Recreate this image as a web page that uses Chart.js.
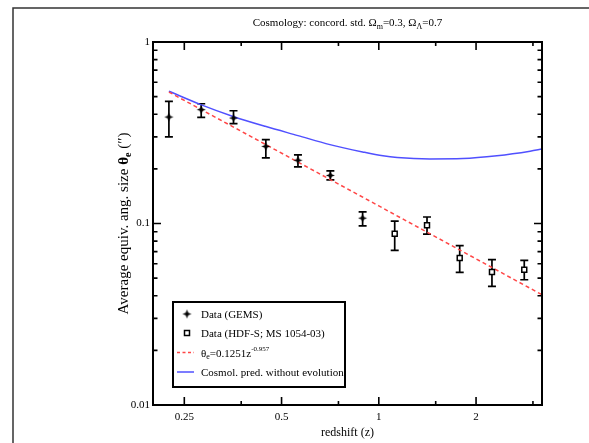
<!DOCTYPE html>
<html>
<head>
<meta charset="utf-8">
<script src="https://cdn.jsdelivr.net/npm/chart.js@4.4.0/dist/chart.umd.min.js"></script>
<style>
  html, body { margin: 0; padding: 0; background: #fff; }
  #wrap { width: 589px; height: 443px; }
</style>
</head>
<body>
<div id="wrap"><canvas id="chart"></canvas></div>
<script>
// GEMS bins: redshift, mean size (arcsec), error bar ends
const gemsZ = [0.224, 0.282, 0.355, 0.447, 0.562, 0.708, 0.891]
const gemsTheta = [0.386, 0.424, 0.381, 0.266, 0.223, 0.184, 0.107]
const gemsLow = [0.300, 0.384, 0.355, 0.230, 0.205, 0.174, 0.097]
const gemsHigh = [0.471, 0.457, 0.418, 0.290, 0.239, 0.195, 0.116]

// HDF-S / MS 1054-03 bins
const hdfZ = [1.12, 1.41, 1.78, 2.24, 2.82]
const hdfTheta = [0.0879, 0.0977, 0.0646, 0.0541, 0.0556]
const hdfLow = [0.0711, 0.0875, 0.0538, 0.0450, 0.0490]
const hdfHigh = [0.103, 0.1086, 0.0755, 0.0632, 0.0626]

// power law fit, read at a few redshifts
const fitZ = [0.224, 1, 3.2]
const fitTheta = [0.53, 0.125, 0.0405]

// no-evolution prediction
const modelZ = [0.224, 0.281, 0.354, 0.445, 0.562, 0.706, 0.891, 1.03, 1.14, 1.44, 1.82, 2.32, 2.94, 3.2]
const modelTheta = [0.535, 0.452, 0.389, 0.343, 0.305, 0.272, 0.248, 0.236, 0.231, 0.227, 0.228, 0.236, 0.250, 0.257]

const xMajor = [0.25, 0.5, 1, 2]
const xLabels = ['0.25', '0.5', '1', '2']
const xMinor = [0.375, 0.75, 1.5, 3]
const yMajor = [0.01, 0.1, 1]
const yLabels = ['0.01', '0.1', '1']
const yMinor = [0.02, 0.03, 0.04, 0.05, 0.06, 0.07, 0.08, 0.09,
                0.2, 0.3, 0.4, 0.5, 0.6, 0.7, 0.8, 0.9]

const SERIF = "'Liberation Serif', 'Times New Roman', serif"

function toPoints(xs, ys) {
    return xs.map((x, i) => ({ x: x, y: ys[i] }))
}

// little filled four point star for the GEMS marker
function makeStar(r) {
    const c = document.createElement('canvas')
    c.width = c.height = 2 * r + 2
    const g = c.getContext('2d')
    const m = r + 1
    g.beginPath()
    for (let k = 0; k < 8; k++) {
        const a = k * Math.PI / 4 - Math.PI / 2
        const rr = k % 2 === 0 ? r : r * 0.4
        g.lineTo(m + rr * Math.cos(a), m + rr * Math.sin(a))
    }
    g.closePath()
    g.fillStyle = '#000'
    g.fill()
    return c
}
const star = makeStar(4.5)

function drawRich(ctx, parts, x, y, align) {
    let total = 0
    parts.forEach(p => { ctx.font = p.font; total += ctx.measureText(p.t).width })
    let cx = align === 'center' ? x - total / 2 : x
    ctx.textAlign = 'left'
    ctx.textBaseline = 'alphabetic'
    parts.forEach(p => {
        ctx.font = p.font
        ctx.fillText(p.t, cx, y + (p.dy || 0))
        cx += ctx.measureText(p.t).width
    })
}

const errorBars = {
    id: 'errorBars',
    beforeDatasetsDraw(chart) {
        const ctx = chart.ctx
        const xs = chart.scales.x, ys = chart.scales.y
        ctx.save()
        ctx.strokeStyle = '#000'
        ctx.lineWidth = 1.7
        chart.data.datasets.forEach(ds => {
            if (!ds.errLow) return
            ds.data.forEach((p, i) => {
                const px = xs.getPixelForValue(p.x)
                const lo = ys.getPixelForValue(ds.errLow[i])
                const hi = ys.getPixelForValue(ds.errHigh[i])
                ctx.beginPath()
                ctx.moveTo(px, lo); ctx.lineTo(px, hi)
                ctx.moveTo(px - 4, lo); ctx.lineTo(px + 4, lo)
                ctx.moveTo(px - 4, hi); ctx.lineTo(px + 4, hi)
                ctx.stroke()
            })
        })
        ctx.restore()
    }
}

const decorations = {
    id: 'decorations',
    beforeDraw(chart) {
        const ctx = chart.ctx
        ctx.save()
        ctx.fillStyle = '#fff'
        ctx.fillRect(0, 0, chart.width, chart.height)
        // page frame
        ctx.strokeStyle = '#333'
        ctx.lineWidth = 1.5
        ctx.beginPath()
        ctx.moveTo(13, chart.height); ctx.lineTo(13, 8); ctx.lineTo(chart.width, 8)
        ctx.stroke()
        ctx.restore()
    },
    afterDraw(chart) {
        const ctx = chart.ctx
        const a = chart.chartArea
        const xs = chart.scales.x, ys = chart.scales.y
        ctx.save()
        ctx.strokeStyle = '#000'
        ctx.lineWidth = 2
        ctx.strokeRect(a.left, a.top, a.right - a.left, a.bottom - a.top)

        // inward ticks on all four sides
        ctx.lineWidth = 1.6
        ctx.beginPath()
        const xt = (v, len) => {
            const px = xs.getPixelForValue(v)
            ctx.moveTo(px, a.bottom); ctx.lineTo(px, a.bottom - len)
            ctx.moveTo(px, a.top); ctx.lineTo(px, a.top + len)
        }
        const yt = (v, len) => {
            const py = ys.getPixelForValue(v)
            ctx.moveTo(a.left, py); ctx.lineTo(a.left + len, py)
            ctx.moveTo(a.right, py); ctx.lineTo(a.right - len, py)
        }
        xMajor.forEach(v => xt(v, 8))
        xMinor.forEach(v => xt(v, 4))
        yMajor.forEach(v => yt(v, 8))
        yMinor.forEach(v => yt(v, 4.5))
        ctx.stroke()

        ctx.fillStyle = '#000'
        // title
        const big = '11px ' + SERIF, sub = '8px ' + SERIF
        drawRich(ctx, [
            { t: 'Cosmology: concord. std. \u03A9', font: big },
            { t: 'm', font: sub, dy: 3 },
            { t: '=0.3, \u03A9', font: big },
            { t: '\u039B', font: sub, dy: 3 },
            { t: '=0.7', font: big }
        ], (a.left + a.right) / 2, 26, 'center')

        // y axis title
        ctx.save()
        ctx.translate(123, (a.top + a.bottom) / 2)
        ctx.rotate(-Math.PI / 2)
        drawRich(ctx, [
            { t: 'Average equiv. ang. size ', font: '15px ' + SERIF },
            { t: '\u03B8', font: 'bold 15px ' + SERIF },
            { t: 'e', font: 'bold 10px ' + SERIF, dy: 3 },
            { t: ' (\u2033)', font: '15px ' + SERIF }
        ], 0, 5, 'center')
        ctx.restore()

        // legend
        const lx = 173, ly = 302
        ctx.fillStyle = '#fff'
        ctx.fillRect(lx, ly, 172, 85)
        ctx.strokeStyle = '#000'
        ctx.lineWidth = 2
        ctx.strokeRect(lx, ly, 172, 85)
        const rows = [314, 333, 352.5, 372]
        const ds = chart.data.datasets
        ctx.fillStyle = '#000'
        ctx.drawImage(star, 187 - star.width / 2, rows[0] - star.height / 2)
        ctx.lineWidth = 1.5
        ctx.fillStyle = '#fff'
        ctx.fillRect(184.5, rows[1] - 2.5, 5, 5)
        ctx.strokeRect(184.5, rows[1] - 2.5, 5, 5)
        ctx.beginPath()
        ctx.strokeStyle = ds[2].borderColor
        ctx.setLineDash([3, 2.5])
        ctx.moveTo(177, rows[2]); ctx.lineTo(194, rows[2])
        ctx.stroke()
        ctx.setLineDash([])
        ctx.beginPath()
        ctx.strokeStyle = ds[3].borderColor
        ctx.moveTo(177, rows[3]); ctx.lineTo(194, rows[3])
        ctx.stroke()
        ctx.fillStyle = '#000'
        const tx = 201
        drawRich(ctx, [{ t: ds[0].label, font: big }], tx, rows[0] + 4)
        drawRich(ctx, [{ t: ds[1].label, font: big }], tx, rows[1] + 4)
        drawRich(ctx, [
            { t: '\u03B8', font: big },
            { t: 'e', font: sub, dy: 2 },
            { t: '=0.1251z', font: big },
            { t: '-0.957', font: '7px ' + SERIF, dy: -6 }
        ], tx, rows[2] + 4)
        drawRich(ctx, [{ t: ds[3].label, font: big }], tx, rows[3] + 4)
        ctx.restore()
    }
}

const ctx = document.getElementById('chart').getContext('2d')
const chart = new Chart(ctx, {
    type: 'scatter',
    data: {
        datasets: [{
            label: 'Data (GEMS)',
            data: toPoints(gemsZ, gemsTheta),
            errLow: gemsLow,
            errHigh: gemsHigh,
            pointStyle: star,
            pointRadius: 4
        }, {
            label: 'Data (HDF-S; MS 1054-03)',
            data: toPoints(hdfZ, hdfTheta),
            errLow: hdfLow,
            errHigh: hdfHigh,
            pointStyle: 'rect',
            pointRadius: 3.5,
            backgroundColor: '#fff',
            borderColor: '#000',
            borderWidth: 1.5
        }, {
            label: 'fit',
            type: 'line',
            data: toPoints(fitZ, fitTheta),
            borderColor: 'rgba(255, 70, 70, 1)',
            borderWidth: 1.5,
            borderDash: [4, 3],
            pointRadius: 0,
            fill: false
        }, {
            label: 'Cosmol. pred. without evolution',
            type: 'line',
            data: toPoints(modelZ, modelTheta),
            borderColor: 'rgba(80, 80, 255, 1)',
            borderWidth: 1.5,
            cubicInterpolationMode: 'monotone',
            pointRadius: 0,
            fill: false
        }]
    },
    options: {
        responsive: true,
        maintainAspectRatio: false,
        animation: false,
        layout: { padding: { top: 42, right: 47, left: 0, bottom: 0 } },
        scales: {
            x: {
                type: 'logarithmic',
                min: 0.2,
                max: 3.2,
                afterFit: s => { s.height = 38 },
                afterBuildTicks: s => { s.ticks = xMajor.map(v => ({ value: v })) },
                grid: { display: false, drawTicks: false, tickLength: 0 },
                border: { display: false },
                ticks: {
                    autoSkip: false,
                    maxRotation: 0,
                    padding: 6,
                    color: '#000',
                    font: { family: SERIF, size: 11 },
                    callback: (v, i) => xLabels[i]
                },
                title: {
                    display: true,
                    text: 'redshift (z)',
                    color: '#000',
                    font: { family: SERIF, size: 12 },
                    padding: { top: 0, bottom: 3 }
                }
            },
            y: {
                type: 'logarithmic',
                min: 0.01,
                max: 1,
                afterFit: s => { s.width = 153 },
                afterBuildTicks: s => { s.ticks = yMajor.map(v => ({ value: v })) },
                grid: { display: false, drawTicks: false, tickLength: 0 },
                border: { display: false },
                ticks: {
                    autoSkip: false,
                    padding: 3,
                    color: '#000',
                    font: { family: SERIF, size: 11 },
                    callback: (v, i) => yLabels[i]
                }
            }
        },
        plugins: {
            legend: { display: false },
            tooltip: { enabled: false }
        }
    },
    plugins: [decorations, errorBars]
})
</script>
</body>
</html>
